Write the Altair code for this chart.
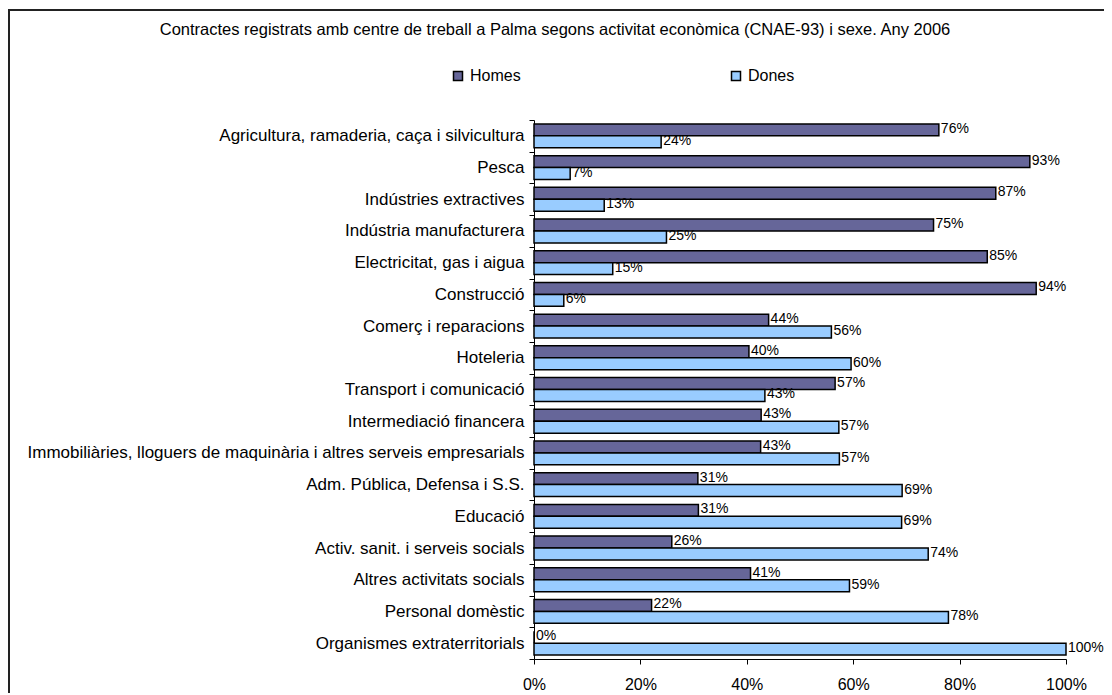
import altair as alt
import pandas as pd

title_text = "Contractes registrats amb centre de treball a Palma segons activitat econòmica (CNAE-93) i sexe. Any 2006"

categories = [
    "Agricultura, ramaderia, caça i silvicultura",
    "Pesca",
    "Indústries extractives",
    "Indústria manufacturera",
    "Electricitat, gas i aigua",
    "Construcció",
    "Comerç i reparacions",
    "Hoteleria",
    "Transport i comunicació",
    "Intermediació financera",
    "Immobiliàries, lloguers de maquinària i altres serveis empresarials",
    "Adm. Pública, Defensa i S.S.",
    "Educació",
    "Activ. sanit. i serveis socials",
    "Altres activitats socials",
    "Personal domèstic",
    "Organismes extraterritorials",
]
homes = [76.1, 93.2, 86.8, 75.1, 85.2, 94.4, 44.1, 40.4, 56.6, 42.7, 42.6, 30.8, 30.9, 25.9, 40.7, 22.1, 0.0]
dones = [23.9, 6.8, 13.2, 24.9, 14.8, 5.6, 55.9, 59.6, 43.4, 57.3, 57.4, 69.2, 69.1, 74.1, 59.3, 77.9, 100.0]
series = ["Homes", "Dones"]
colors = ["#666699", "#99CCFF"]
x_ticks = [0, 0.2, 0.4, 0.6, 0.8, 1.0]

rows = []
for c, h, d in zip(categories, homes, dones):
    rows.append({"cat": c, "sexe": "Homes", "v": h / 100})
    rows.append({"cat": c, "sexe": "Dones", "v": d / 100})
df = pd.DataFrame(rows)

FONT = "Liberation Sans"

y_enc = alt.Y(
    "cat:N",
    sort=categories,
    scale=alt.Scale(paddingInner=0, paddingOuter=0),
    axis=alt.Axis(
        title=None, tickBand="extent", tickSize=5, labelPadding=5,
        labelFontSize=17, labelColor="black", labelLimit=700, labelFont=FONT,
        domainColor="black", tickColor="black", grid=False,
    ),
)
yoff_enc = alt.YOffset(
    "sexe:N", sort=series,
    scale=alt.Scale(paddingInner=0, paddingOuter=0.33),
)
x_enc = alt.X(
    "v:Q",
    scale=alt.Scale(domain=[0, 1]),
    axis=alt.Axis(
        title=None, format="%", values=x_ticks, grid=False, tickSize=5,
        labelPadding=12, labelFontSize=16, labelColor="black", labelFont=FONT,
        labelFlush=False, domainColor="black", tickColor="black",
    ),
)

bars = alt.Chart(df).mark_bar(stroke="black", strokeWidth=1.5).encode(
    y=y_enc,
    yOffset=yoff_enc,
    x=x_enc,
    color=alt.Color(
        "sexe:N",
        scale=alt.Scale(domain=series, range=colors),
        legend=alt.Legend(
            title=None, orient="none", legendX=-84, legendY=-52,
            direction="horizontal", columns=2, columnPadding=207,
            symbolType="square", symbolSize=81, symbolStrokeColor="black",
            symbolStrokeWidth=1.5, labelFontSize=16, labelFont=FONT,
            labelColor="black", labelOffset=4, padding=0,
        ),
    ),
)

labels = alt.Chart(df).mark_text(
    align="left", baseline="middle", dx=2, dy=-1, fontSize=14, font=FONT, color="black"
).encode(
    y=alt.Y("cat:N", sort=categories),
    yOffset=alt.YOffset("sexe:N", sort=series),
    x=alt.X("v:Q"),
    text=alt.Text("v:Q", format=".0%"),
)

one = pd.DataFrame({"t": [title_text]})
frame = alt.Chart(one).mark_rect(
    fill="transparent", stroke="#222222", strokeWidth=2
).encode(
    x=alt.value(-525), x2=alt.value(700), y=alt.value(-110), y2=alt.value(700)
)
title = alt.Chart(one).mark_text(
    fontSize=16.5, font=FONT, color="black", align="center", baseline="middle"
).encode(text="t:N", x=alt.value(21), y=alt.value(-90))

chart = alt.layer(frame, title, bars, labels).properties(
    width=532,
    height=539,
    autosize="none",
    padding={"left": 526, "top": 112, "right": 38, "bottom": 34},
    background="white",
).configure_view(strokeWidth=0)

chart.save("out.html", embed_options={"renderer": "svg", "actions": False})
